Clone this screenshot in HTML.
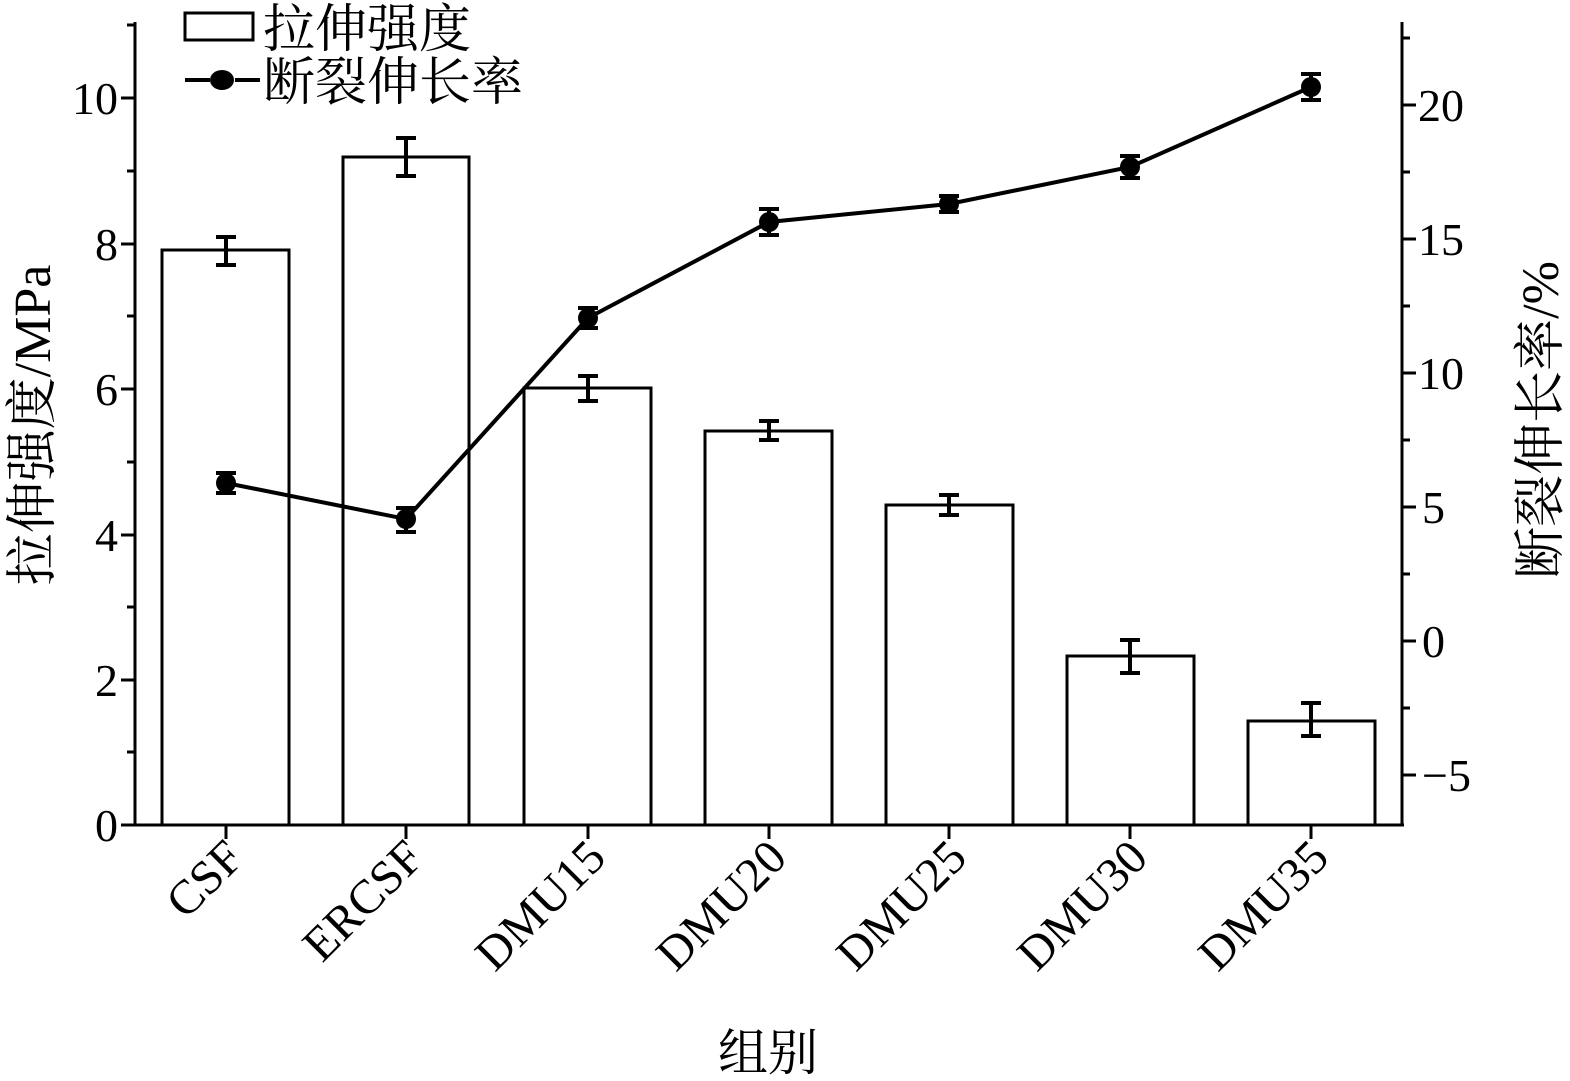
<!DOCTYPE html>
<html><head><meta charset="utf-8"><style>body{margin:0;background:#fff}svg{display:block}text{font-family:"Liberation Serif","Noto Serif CJK SC",serif;fill:#000}</style></head><body>
<svg width="1570" height="1081" viewBox="0 0 1570 1081" xmlns="http://www.w3.org/2000/svg">
<g stroke="#000" stroke-width="3" fill="none">
<line x1="135" y1="22" x2="135" y2="826"/>
<line x1="133" y1="825" x2="1404" y2="825"/>
<line x1="1402" y1="22" x2="1402" y2="826"/>
<path d="M135 825h-14M135 680h-14M135 535h-14M135 389h-14M135 244h-14M135 98h-14M135 752h-8M135 607h-8M135 462h-8M135 316h-8M135 171h-8M135 25h-8"/>
<path d="M1402 775h14M1402 641h14M1402 507h14M1402 373h14M1402 239h14M1402 105h14M1402 708h8M1402 574h8M1402 440h8M1402 306h8M1402 172h8M1402 38h8"/>
<path d="M226 825v14M406 825v14M588 825v14M769 825v14M949 825v14M1130 825v14M1311 825v14"/>
<rect x="162" y="250" width="127" height="575"/>
<rect x="343" y="157" width="126" height="668"/>
<rect x="524" y="388" width="127" height="437"/>
<rect x="705" y="431" width="127" height="394"/>
<rect x="886" y="505" width="127" height="320"/>
<rect x="1067" y="656" width="127" height="169"/>
<rect x="1248" y="721" width="127" height="104"/>
<rect x="185" y="13" width="68" height="27"/>
</g>
<g stroke="#000" stroke-width="4" fill="none">
<path d="M226 237v28M216 237h20M216 265h20"/>
<path d="M406 138v38M396 138h20M396 176h20"/>
<path d="M588 376v25M578 376h20M578 401h20"/>
<path d="M769 421v19M759 421h20M759 440h20"/>
<path d="M949 495v20M939 495h20M939 515h20"/>
<path d="M1130 640v33M1120 640h20M1120 673h20"/>
<path d="M1311 703v33M1301 703h20M1301 736h20"/>
<polyline points="226,483 406,519 588,318 769,222 949,204 1130,167 1311,87"/>
<path d="M226 473v20M216 473h20M216 493h20"/>
<path d="M406 508v24M396 508h20M396 532h20"/>
<path d="M588 308v20M578 308h20M578 328h20"/>
<path d="M769 209v26M759 209h20M759 235h20"/>
<path d="M949 196v16M939 196h20M939 212h20"/>
<path d="M1130 156v22M1120 156h20M1120 178h20"/>
<path d="M1311 74v26M1301 74h20M1301 100h20"/>
<path d="M185 80h25M235 80h25"/>
</g>
<g fill="#000">
<circle cx="226" cy="483" r="10"/><circle cx="406" cy="519" r="10"/><circle cx="588" cy="318" r="10"/><circle cx="769" cy="222" r="10"/><circle cx="949" cy="204" r="10"/><circle cx="1130" cy="167" r="10"/><circle cx="1311" cy="87" r="10"/>
<ellipse cx="222" cy="80" rx="12" ry="10"/>
</g>
<g font-size="46" text-anchor="end">
<text x="118" y="841">0</text><text x="118" y="696">2</text><text x="118" y="551">4</text><text x="118" y="405">6</text><text x="118" y="260">8</text><text x="118" y="114">10</text>
</g>
<g font-size="46" text-anchor="start">
<text x="1422" y="791">−5</text><text x="1422" y="657">0</text><text x="1422" y="523">5</text><text x="1418" y="389">10</text><text x="1418" y="255">15</text><text x="1418" y="121">20</text>
</g>
<g font-size="48" text-anchor="end">
<text transform="translate(246,860) rotate(-45)">CSF</text>
<text transform="translate(426,860) rotate(-45)">ERCSF</text>
<text transform="translate(608,860) rotate(-45)">DMU15</text>
<text transform="translate(789,860) rotate(-45)">DMU20</text>
<text transform="translate(969,860) rotate(-45)">DMU25</text>
<text transform="translate(1150,860) rotate(-45)">DMU30</text>
<text transform="translate(1331,860) rotate(-45)">DMU35</text>
</g>
<text x="768" y="1070" font-size="50" text-anchor="middle">组别</text>
<text transform="translate(50,425) rotate(-90)" font-size="52" text-anchor="middle">拉伸强度/MPa</text>
<text transform="translate(1558,420) rotate(-90)" font-size="52" text-anchor="middle">断裂伸长率/%</text>
<text x="263" y="47" font-size="52">拉伸强度</text>
<text x="263" y="100" font-size="52">断裂伸长率</text>
</svg>
</body></html>
